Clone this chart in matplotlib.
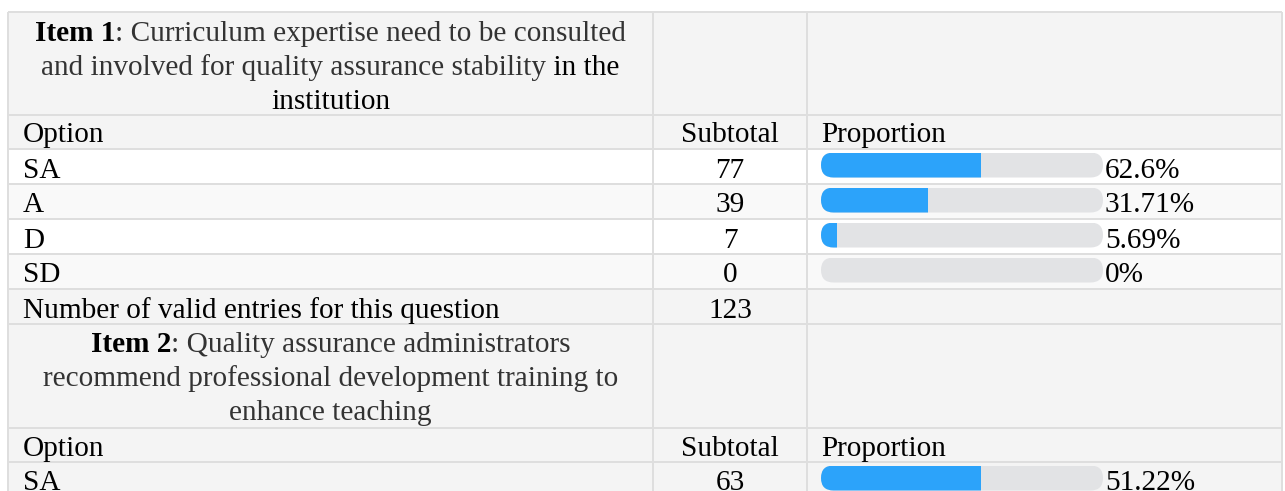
import matplotlib
matplotlib.use('Agg')
import matplotlib.pyplot as plt
from matplotlib.patches import Rectangle, FancyBboxPatch

plt.rcParams['font.family'] = ['Liberation Serif', 'DejaVu Serif']

# data
options = ['SA', 'A', 'D', 'SD']
item1_subtotals = [77, 39, 7, 0]
item1_pct = [62.6, 31.71, 5.69, 0]
item1_fill = [0.567, 0.38, 0.057, 0.0]   # fill of the drawn bars (as seen)
item1_total = 123
item2_subtotals = [63]
item2_pct = [51.22]
item2_fill = [0.567]

item1_head = [[('Item 1', 'bold', 'black'), (': Curriculum expertise need to be consulted', 'normal', '#333333')],
              [('and involved for quality assurance stability', 'normal', '#333333'), (' in the', 'normal', 'black')],
              [('institution', 'normal', 'black')]]
item2_head = [[('Item 2', 'bold', 'black'), (': Quality assurance administrators', 'normal', '#333333')],
              [('recommend professional development training to', 'normal', '#333333')],
              [('enhance teaching', 'normal', '#333333')]]
col_heads = ['Option', 'Subtotal', 'Proportion']
total_label = 'Number of valid entries for this question'

# layout (pixels)
W, H = 1285, 491
FS = 21.1
x_left, x_c1, x_c2, x_right = 8, 653, 807, 1282
bar_x, bar_w, bar_h = 821, 282, 25
line_col = '#dedede'
gray_bg, light_bg = '#f4f4f4', '#f9f9f9'

fig = plt.figure(figsize=(W / 100, H / 100), dpi=100)
ax = fig.add_axes([0, 0, 1, 1])
ax.set_xlim(0, W)
ax.set_ylim(H, 0)
ax.axis('off')
renderer = fig.canvas.get_renderer()


def text_w(s, weight):
    # width including leading/trailing spaces
    t1 = ax.text(0, 0, '|' + s + '|', fontsize=FS, fontweight=weight)
    t2 = ax.text(0, 0, '||', fontsize=FS, fontweight=weight)
    w = t1.get_window_extent(renderer).width - t2.get_window_extent(renderer).width
    t1.remove()
    t2.remove()
    return w


def header_block(lines, top):
    cx = (x_left + x_c1) / 2
    for k, pieces in enumerate(lines):
        widths = [text_w(s, wt) for s, wt, c in pieces]
        x = cx - sum(widths) / 2
        y = top + 28.5 + 34 * k
        for (s, wt, c), w in zip(pieces, widths):
            ax.text(x, y, s, fontsize=FS, fontweight=wt, color=c, va='baseline', ha='left')
            x += w


def bars(tops, fills, pcts):
    centers = [t + 16 for t in tops]
    track = ax.barh(centers, [bar_w] * len(centers), left=bar_x, height=bar_h, color='#e2e3e5')
    fill = ax.barh(centers, [f * bar_w for f in fills], left=bar_x, height=bar_h, color='#2ca3fa')
    for c, r1, r2 in zip(centers, track, fill):
        clip = FancyBboxPatch((bar_x, c - bar_h / 2), bar_w, bar_h,
                              boxstyle='round,pad=0,rounding_size=12.5', transform=ax.transData)
        r1.set_clip_path(clip)
        r2.set_clip_path(clip)
    for t, p in zip(tops, pcts):
        ax.text(bar_x + bar_w + 2, t + 28.5, f'{p:g}%', fontsize=FS, va='baseline', ha='left')


edges = [12, 115, 149, 184, 219, 254, 289, 324, 428, 462, 497]
fills_bg = [gray_bg, gray_bg, 'white', light_bg, 'white', light_bg, gray_bg, gray_bg, gray_bg, gray_bg]
for y0, y1, c in zip(edges[:-1], edges[1:], fills_bg):
    ax.add_patch(Rectangle((x_left, y0), x_right - x_left, y1 - y0, color=c, lw=0, zorder=0))

# item 1
header_block(item1_head, edges[0])
for x, s, ha in zip([23, (x_c1 + x_c2) / 2, bar_x], col_heads, ['left', 'center', 'left']):
    ax.text(x, edges[2] - 6.5, s, fontsize=FS, va='baseline', ha=ha)
for i, (o, n) in enumerate(zip(options, item1_subtotals)):
    y = edges[3 + i] - 6.5
    ax.text(23, y, o, fontsize=FS, va='baseline')
    ax.text((x_c1 + x_c2) / 2, y, str(n), fontsize=FS, va='baseline', ha='center')
bars(edges[2:6], item1_fill, item1_pct)
ax.text(23, edges[7] - 6.5, total_label, fontsize=FS, va='baseline')
ax.text((x_c1 + x_c2) / 2, edges[7] - 6.5, str(item1_total), fontsize=FS, va='baseline', ha='center')

# item 2
header_block(item2_head, edges[7])
for x, s, ha in zip([23, (x_c1 + x_c2) / 2, bar_x], col_heads, ['left', 'center', 'left']):
    ax.text(x, edges[9] - 6.5, s, fontsize=FS, va='baseline', ha=ha)
for i, (o, n) in enumerate(zip(options, item2_subtotals)):
    y = edges[10 + i] - 6.5
    ax.text(23, y, o, fontsize=FS, va='baseline')
    ax.text((x_c1 + x_c2) / 2, y, str(n), fontsize=FS, va='baseline', ha='center')
bars(edges[9:10], item2_fill, item2_pct)

# grid lines
for y in edges[:-1]:
    ax.plot([x_left, x_right], [y, y], color=line_col, lw=1.44, solid_capstyle='butt')
for x in [x_left, x_c1, x_c2, x_right]:
    ax.plot([x, x], [12, H], color=line_col, lw=1.44, solid_capstyle='butt')

fig.savefig('out.png', dpi=100, facecolor='white')
